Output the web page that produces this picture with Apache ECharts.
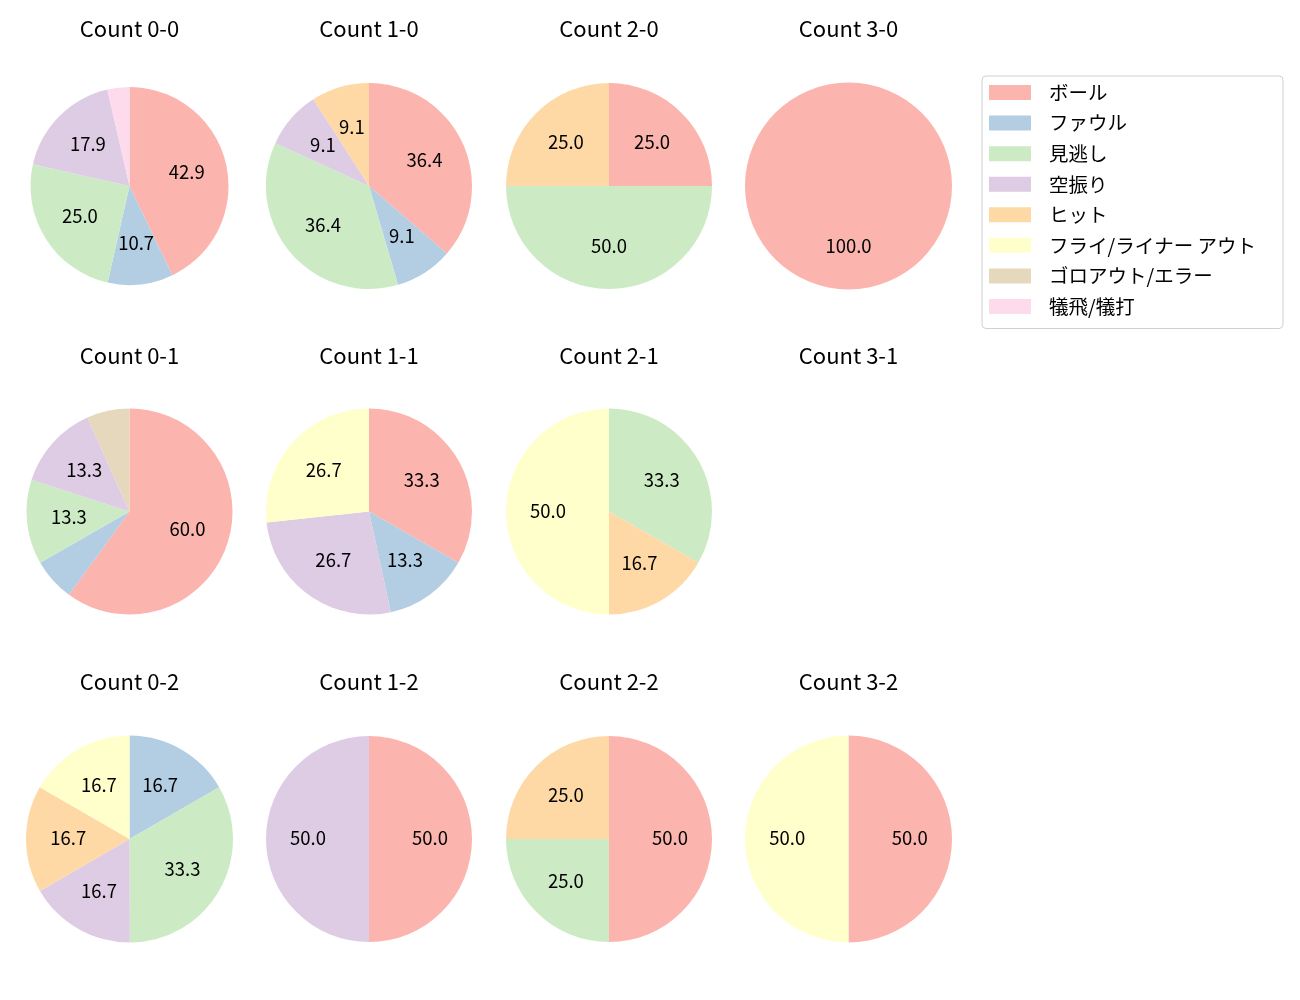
<!DOCTYPE html>
<html>
<head>
<meta charset="utf-8">
<script src="https://cdn.jsdelivr.net/npm/echarts@6/dist/echarts.min.js"></script>
<style>
html,body{margin:0;padding:0;background:#fff;}
#chart{width:1300px;height:1000px;}
</style>
</head>
<body>
<div id="chart"></div>
<script>
const categories = ['ボール','ファウル','見逃し','空振り','ヒット','フライ/ライナー アウト','ゴロアウト/エラー','犠飛/犠打'];
const palette = ['#fbb4ae','#b3cde3','#ccebc5','#decbe4','#fed9a6','#ffffcc','#e5d8bd','#fddaec'];
const countLabels = ['0-0','1-0','2-0','3-0','0-1','1-1','2-1','3-1','0-2','1-2','2-2','3-2'];
// percentages per category (same order as categories)
const c00 = [42.9,10.7,25.0,17.9,0,0,0,3.6];
const c10 = [36.4,9.1,36.4,9.1,9.1,0,0,0];
const c20 = [25.0,0,50.0,0,25.0,0,0,0];
const c30 = [100.0,0,0,0,0,0,0,0];
const c01 = [60.0,6.7,13.3,13.3,0,0,6.7,0];
const c11 = [33.3,13.3,0,26.7,0,26.7,0,0];
const c21 = [0,0,33.3,0,16.7,50.0,0,0];
const c31 = [0,0,0,0,0,0,0,0];
const c02 = [0,16.7,33.3,16.7,16.7,16.7,0,0];
const c12 = [50.0,0,0,50.0,0,0,0,0];
const c22 = [50.0,0,25.0,0,25.0,0,0,0];
const c32 = [50.0,0,0,0,0,50.0,0,0];
const allValues = [c00,c10,c20,c30,c01,c11,c21,c31,c02,c12,c22,c32];

const colX = [129.5, 369, 609, 848.5];
const rowY = [186, 511.5, 839];
const titleY = [18, 345, 671];
const radii = [99,103,103,103.5,103,103,103,103,103.5,103,103,103.5];
const FONT = '"Noto Sans CJK JP", "Noto Sans", sans-serif';

const titles = [];
const visSeries = [];
const lblSeries = [];
allValues.forEach((vals, i) => {
  const col = i % 4, row = Math.floor(i / 4);
  titles.push({
    text: 'Count ' + countLabels[i],
    left: colX[col], top: titleY[row], textAlign: 'center', padding: 0,
    textStyle: {fontFamily: FONT, fontSize: 22, fontWeight: 'normal', color: '#000'}
  });
  const data = [];
  vals.forEach((v, k) => { if (v > 0) data.push({name: categories[k], value: v, itemStyle: {color: palette[k]}}); });
  if (!data.length) return;
  const r = radii[i];
  const center = [colX[col], rowY[row]];
  visSeries.push({
    type: 'pie', center: center, radius: [0, r], startAngle: 90, clockwise: true,
    silent: true, animation: false, avoidLabelOverlap: false,
    label: {show: false}, labelLine: {show: false},
    itemStyle: {borderWidth: 0},
    emphasis: {disabled: true},
    data: data
  });
  lblSeries.push({
    type: 'pie', center: center, radius: [0.125 * r, r], startAngle: 90, clockwise: true,
    silent: true, animation: false, avoidLabelOverlap: false, z: 5,
    itemStyle: {color: 'rgba(0,0,0,0)', borderWidth: 0},
    label: {
      show: true, position: 'inside', color: '#000', fontFamily: FONT, fontSize: 18.5,
      offset: [0, -1],
      formatter: p => p.value >= 8 ? p.value.toFixed(1) : ''
    },
    labelLine: {show: false},
    emphasis: {disabled: true},
    data: data.map(d => ({name: d.name, value: d.value}))
  });
});

const chart = echarts.init(document.getElementById('chart'), null, {renderer: 'canvas'});
chart.setOption({
  backgroundColor: '#fff',
  animation: false,
  title: titles,
  legend: {
    orient: 'vertical', left: 982, top: 76,
    data: categories,
    icon: 'rect', itemWidth: 42, itemHeight: 15, itemGap: 10.57,
    padding: [6.5, 27, 12, 7],
    borderColor: '#d0d0d0', borderWidth: 1, borderRadius: 4,
    selectedMode: false,
    textStyle: {fontFamily: FONT, fontSize: 19.5, color: '#000', lineHeight: 20, padding: [0, 0, 0, 13]}
  },
  series: visSeries.concat(lblSeries)
});
</script>
</body>
</html>
